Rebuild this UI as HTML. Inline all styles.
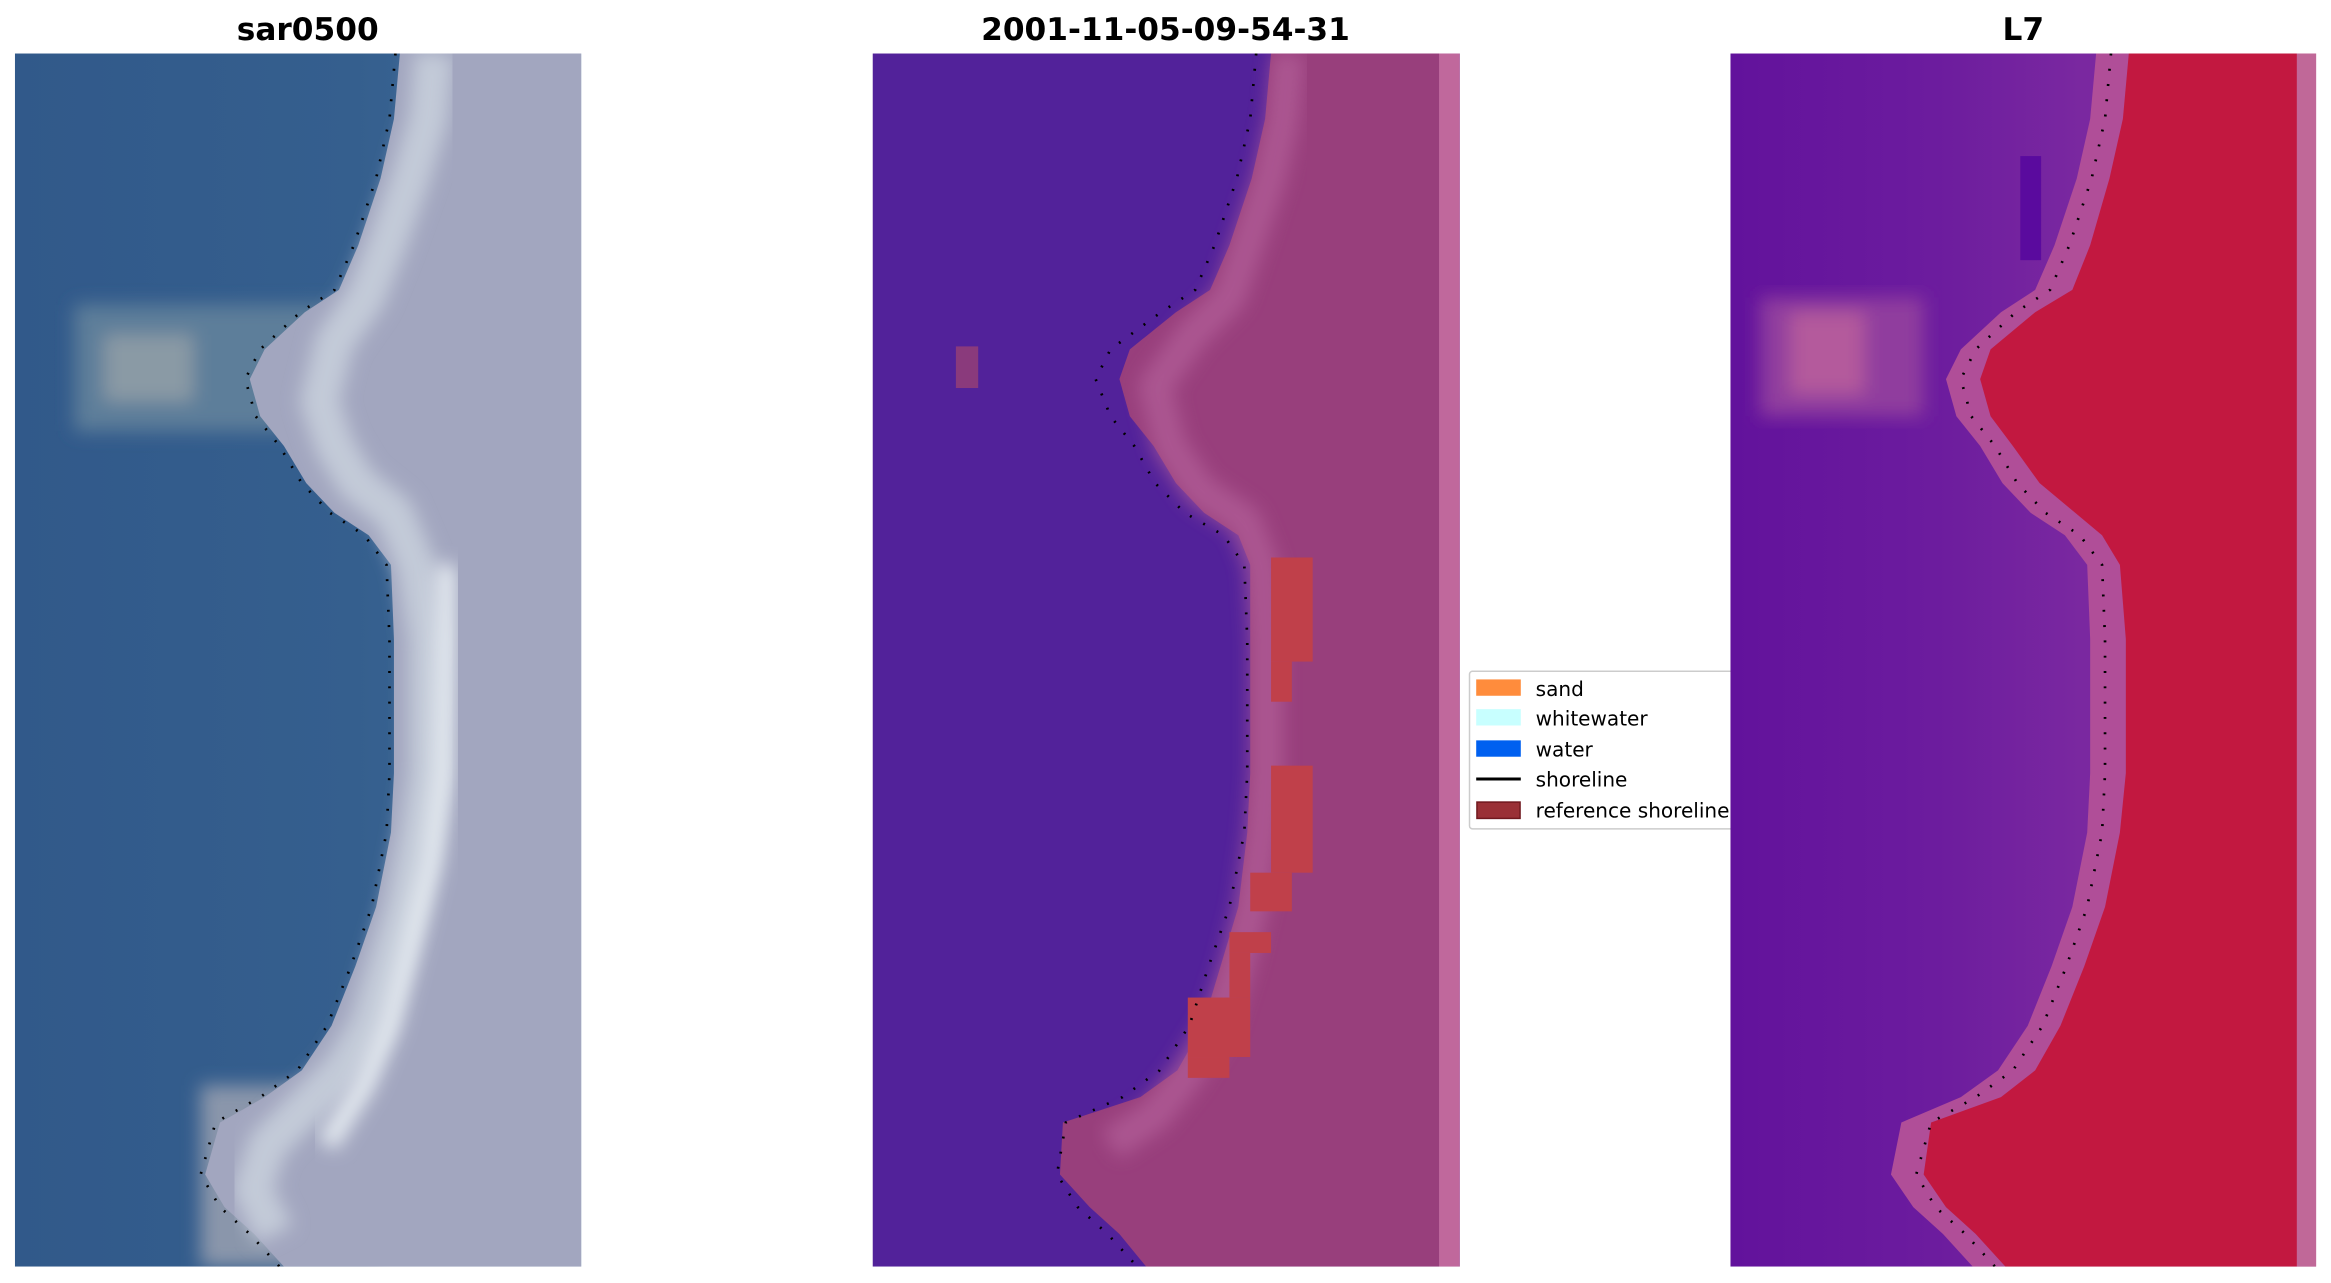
<!DOCTYPE html>
<html><head><meta charset="utf-8"><style>
html,body{margin:0;padding:0;background:#fff;width:2331px;height:1283px;overflow:hidden}
svg{display:block}
text{font-family:"DejaVu Sans","Liberation Sans",sans-serif}
</style></head><body>
<svg width="2331" height="1283" viewBox="0 0 1568 863" preserveAspectRatio="none" xmlns="http://www.w3.org/2000/svg">
<defs>
<clipPath id="c1"><rect x="10" y="36" width="381" height="816"/></clipPath>
<clipPath id="c2"><rect x="587" y="36" width="395" height="816"/></clipPath>
<clipPath id="c3"><rect x="1164" y="36" width="394" height="816"/></clipPath>
<linearGradient id="g3" x1="0" x2="1" y1="0" y2="0">
<stop offset="0" stop-color="#62129c"/><stop offset="0.35" stop-color="#6c1c9e"/><stop offset="0.6" stop-color="#7a28a0"/><stop offset="1" stop-color="#7a28a0"/>
</linearGradient>
<linearGradient id="g1" x1="0" x2="1" y1="0" y2="0">
<stop offset="0" stop-color="#31598a"/><stop offset="0.6" stop-color="#355f8e"/><stop offset="1" stop-color="#3f6a98"/>
</linearGradient>
<filter id="bl"><feGaussianBlur stdDeviation="6"/></filter>
</defs>
<text x="207" y="27" font-size="21" font-weight="bold" text-anchor="middle">sar0500</text>
<text x="784" y="27" font-size="21" font-weight="bold" text-anchor="middle">2001-11-05-09-54-31</text>
<text x="1361" y="27" font-size="21" font-weight="bold" text-anchor="middle">L7</text>

<!-- Panel 1 -->
<g clip-path="url(#c1)">
<g transform="translate(10,0)">
<rect x="0" y="36" width="381" height="816" fill="url(#g1)"/>
<g filter="url(#bl)">
<rect x="40" y="205" width="190" height="85" fill="#5d7e9a"/>
<rect x="60" y="225" width="60" height="45" fill="#8a9aa5"/>
<rect x="125" y="730" width="120" height="122" fill="#8a96ab"/>
</g>
<polygon fill="#a2a6bf" points="259,36 255,80 246,120 231,165 218,195 195,210 168,235 158,255 165,280 181,300 196,325 215,345 238,360 253,380 255,430 255,520 253,560 243,610 229,650 213,690 193,720 168,738 138,755 128,790 141,812 161,830 181,852 381,852 381,36"/>
<polyline fill="none" stroke="#c3cad8" stroke-width="26" stroke-linejoin="round" filter="url(#bl)" points="282,36 278,80 266,120 250,165 236,200 215,230 205,270 215,300 230,325 255,345 270,380 278,430 278,520 272,560 262,610 250,650 238,690 220,720 195,745 170,770 160,800 175,830"/>
<polyline fill="none" stroke="#e4eaf0" stroke-width="14" stroke-linejoin="round" filter="url(#bl)" points="290,380 290,430 288,520 280,580 265,640 252,690 235,730 210,770"/>
<polyline fill="none" stroke="#000" stroke-width="1.8" stroke-dasharray="1.3 9" points="256,36 252,80 243,120 228,165 215,195 192,210 165,235 155,255 162,280 178,300 193,325 212,345 235,360 250,380 252,430 252,520 250,560 240,610 226,650 210,690 190,720 165,738 135,755 125,790 138,812 158,830 178,852"/>
</g></g>

<!-- Panel 2 -->
<g clip-path="url(#c2)">
<g transform="translate(587,0)">
<rect x="0" y="36" width="395" height="816" fill="#52229a"/>
<rect x="56" y="233" width="15" height="28" fill="#8a3a7c"/>
<polygon fill="#983f7c" points="268,36 264,80 255,120 240,165 227,195 204,210 173,235 166,255 173,280 189,300 204,325 223,345 246,360 254,380 254,430 254,520 252,560 246,610 234,650 222,690 205,720 180,738 128,755 126,790 146,812 166,830 184,852 381,852 381,36"/>
<polyline fill="none" stroke="#b4609a" stroke-width="22" stroke-linejoin="round" opacity="0.7" filter="url(#bl)" points="280,36 276,80 267,120 252,165 240,200 215,225 190,260 200,300 220,330 250,350 262,380 265,430 265,520 262,560 255,610 245,650 232,690 210,725 190,750 160,770"/>
<rect x="381" y="36" width="14" height="816" fill="#c0689c"/>
<rect x="268" y="375" width="28" height="70" fill="#c0404a"/>
<rect x="268" y="445" width="14" height="27" fill="#c0404a"/>
<rect x="268" y="515" width="28" height="72" fill="#c0404a"/>
<rect x="254" y="587" width="28" height="26" fill="#c0404a"/>
<rect x="240" y="627" width="28" height="14" fill="#c0404a"/>
<rect x="240" y="641" width="14" height="30" fill="#c0404a"/>
<rect x="212" y="671" width="42" height="40" fill="#c0404a"/>
<rect x="212" y="711" width="28" height="14" fill="#c0404a"/>
<polyline fill="none" stroke="#000" stroke-width="1.8" stroke-dasharray="1.3 9" points="258,36 254,80 245,120 230,165 217,195 194,210 160,235 150,255 160,280 176,300 190,325 210,345 236,360 250,380 252,430 252,520 250,560 240,610 226,650 213,690 193,720 168,738 130,755 124,790 138,812 158,830 178,852"/>
</g></g>

<!-- Legend -->
<rect x="988.5" y="451.5" width="190" height="106" rx="2" fill="#fff" stroke="#ccc" stroke-width="1"/>
<rect x="993" y="457" width="30" height="11" fill="#ff8c3c"/>
<rect x="993" y="477" width="30" height="11" fill="#c8ffff"/>
<rect x="993" y="498" width="30" height="11" fill="#0060f0"/>
<line x1="993" y1="524" x2="1023" y2="524" stroke="#000" stroke-width="2"/>
<rect x="993.5" y="539.5" width="29" height="11" fill="#9a3036" stroke="#70181e" stroke-width="1"/>
<text x="1033" y="468" font-size="13.5">sand</text>
<text x="1033" y="488" font-size="13.5">whitewater</text>
<text x="1033" y="509" font-size="13.5">water</text>
<text x="1033" y="529" font-size="13.5">shoreline</text>
<text x="1033" y="550" font-size="13.5">reference shoreline</text>

<!-- Panel 3 -->
<g clip-path="url(#c3)">
<g transform="translate(1164,0)">
<rect x="0" y="36" width="394" height="816" fill="url(#g3)"/>
<rect x="195" y="105" width="14" height="70" fill="#5a0a9e"/>
<g filter="url(#bl)">
<rect x="20" y="200" width="110" height="80" fill="#903e9e"/>
<rect x="40" y="210" width="50" height="55" fill="#b45a9c"/>
</g>
<polygon fill="#b04e98" points="246,36 242,80 233,120 218,165 205,195 182,210 155,235 145,255 152,280 168,300 183,325 202,345 225,360 240,380 242,430 242,520 240,560 230,610 216,650 200,690 180,720 155,738 115,755 108,790 123,812 143,830 163,852 394,852 394,36"/>
<polygon fill="#c21840" points="268,36 264,80 255,120 242,165 230,195 205,210 175,235 168,255 175,280 190,300 208,325 232,345 250,360 262,380 266,430 266,520 262,560 252,610 238,650 222,690 205,720 182,738 135,755 130,790 145,812 165,830 185,852 394,852 394,36"/>
<rect x="381" y="36" width="13" height="816" fill="#c06898"/>
<polyline fill="none" stroke="#000" stroke-width="1.8" stroke-dasharray="1.3 9" points="256,36 252,80 243,120 228,165 215,195 192,210 165,235 155,255 162,280 178,300 193,325 212,345 235,360 250,380 252,430 252,520 250,560 240,610 226,650 210,690 190,720 165,738 135,755 125,790 138,812 158,830 178,852"/>
</g></g>
</svg>
</body></html>
